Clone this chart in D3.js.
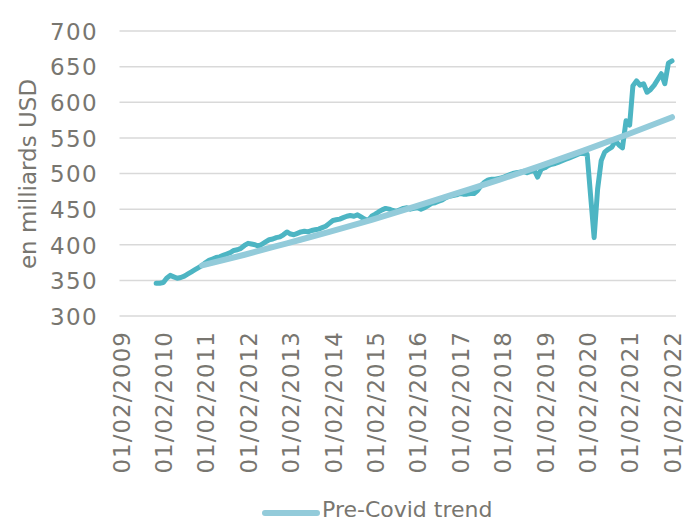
<!DOCTYPE html>
<html>
<head>
<meta charset="utf-8">
<script src="https://cdn.jsdelivr.net/npm/d3@7"></script>
<style>
  body { margin: 0; background: #fff; }
  text { font-family: "DejaVu Sans", sans-serif; fill: #787670; }
</style>
</head>
<body>
<svg width="694" height="523"></svg>
<script>
// monthly series, Dec 2009 -> Feb 2022 (en milliards USD)
var startMonth = "2009-12-01";
var seriesValues = [
  346,
  346, 347, 353, 357, 355, 353, 354, 356, 359, 362, 365, 368,   // 2010
  371, 375, 378, 380, 382, 383, 385, 387, 389, 392, 393, 395,   // 2011
  399, 402, 401, 400, 398, 401, 404, 407, 408, 410, 411, 414,   // 2012
  418, 415, 414, 416, 418, 419, 418, 420, 421, 422, 424, 426,   // 2013
  430, 434, 435, 436, 438, 440, 441, 440, 442, 439, 436, 434,   // 2014
  440, 443, 446, 449, 451, 450, 448, 447, 449, 451, 452, 450,   // 2015
  451, 452, 450, 452, 455, 458, 459, 461, 463, 466, 468, 469,   // 2016
  470, 472, 471, 471, 472, 472, 476, 483, 488, 491, 492, 492,   // 2017
  493, 494, 496, 498, 500, 501, 502, 503, 501, 503, 505, 495,   // 2018
  506, 508, 511, 513, 514, 516, 518, 520, 522, 524, 526, 528,   // 2019
  528, 527, 470, 410, 478, 518, 530, 534, 537, 546, 540, 536,   // 2020
  574, 568, 623, 630, 624, 626, 614, 618, 624, 632, 640, 626,   // 2021
  655, 658                                                      // 2022
];

// pre-covid trend, read once a year
var trendDates = ["2011-01-01", "2012-01-01", "2013-01-01", "2014-01-01", "2015-01-01", "2016-01-01",
                  "2017-01-01", "2018-01-01", "2019-01-01", "2020-01-01", "2021-01-01", "2022-02-01"];
var trendValues = [371, 386, 402, 418, 435, 453, 472, 491, 511, 532, 554, 579];

var xTickDates = ["2009-02-01", "2010-02-01", "2011-02-01", "2012-02-01", "2013-02-01", "2014-02-01", "2015-02-01",
                  "2016-02-01", "2017-02-01", "2018-02-01", "2019-02-01", "2020-02-01", "2021-02-01", "2022-02-01"];
var yTicks = [300, 350, 400, 450, 500, 550, 600, 650, 700];

var parseDate = d3.timeParse("%Y-%m-%d");
var formatDate = d3.timeFormat("%d/%m/%Y");

var svg = d3.select("svg");

var x = d3.scaleTime()
    .domain([parseDate("2009-02-01"), parseDate("2022-02-01")])
    .range([121, 672]);

var y = d3.scaleLinear()
    .domain([300, 700])
    .range([316, 31]);

var seriesData = seriesValues.map(function(v, i) {
  return {date: d3.timeMonth.offset(parseDate(startMonth), i), value: v};
});
var trendData = trendDates.map(function(d, i) {
  return {date: parseDate(d), value: trendValues[i]};
});

// gridlines
svg.append("g")
  .selectAll("line")
  .data(yTicks)
  .enter().append("line")
    .attr("x1", 119.5)
    .attr("x2", 676)
    .attr("y1", function(d) { return y(d); })
    .attr("y2", function(d) { return y(d); })
    .attr("stroke", "#d9d9d9")
    .attr("stroke-width", 1.5);

// y axis labels
var yAxis = svg.append("g")
    .attr("transform", "translate(98,0)")
    .call(d3.axisLeft(y).tickValues(yTicks).tickSize(0).tickPadding(0));
yAxis.select(".domain").remove();
yAxis.selectAll("text")
    .attr("font-size", 23)
    .attr("letter-spacing", 1.4)
    .attr("font-family", null)
    .attr("dy", "0.36em");

// x axis labels
var xAxis = svg.append("g")
    .attr("transform", "translate(0,316)")
    .call(d3.axisBottom(x).tickValues(xTickDates.map(parseDate)).tickFormat(formatDate).tickSize(0));
xAxis.select(".domain").remove();
xAxis.selectAll("text")
    .attr("font-size", 23)
    .attr("letter-spacing", 1.0)
    .attr("font-family", null)
    .attr("text-anchor", "end")
    .attr("transform", "rotate(-90)")
    .attr("x", -15)
    .attr("y", 0)
    .attr("dy", "0.36em");

// y axis title
svg.append("text")
    .attr("transform", "translate(36,174) rotate(-90)")
    .attr("text-anchor", "middle")
    .attr("font-size", 23)
    .text("en milliards USD");

var line = d3.line()
    .x(function(d) { return x(d.date); })
    .y(function(d) { return y(d.value); });

svg.append("path")
    .datum(seriesData)
    .attr("fill", "none")
    .attr("stroke", "#4db5c3")
    .attr("stroke-width", 5)
    .attr("stroke-linejoin", "round")
    .attr("stroke-linecap", "round")
    .attr("d", line);

svg.append("path")
    .datum(trendData)
    .attr("fill", "none")
    .attr("stroke", "#93cbda")
    .attr("stroke-width", 6)
    .attr("stroke-linecap", "round")
    .attr("d", line.curve(d3.curveMonotoneX));

// legend
var legend = svg.append("g").attr("transform", "translate(265,513)");
legend.append("line")
    .attr("x1", 0).attr("x2", 52)
    .attr("stroke", "#93cbda")
    .attr("stroke-width", 6)
    .attr("stroke-linecap", "round");
legend.append("text")
    .attr("x", 57)
    .attr("y", 4)
    .attr("font-size", 22)
    .text("Pre-Covid trend");
</script>
</body>
</html>
